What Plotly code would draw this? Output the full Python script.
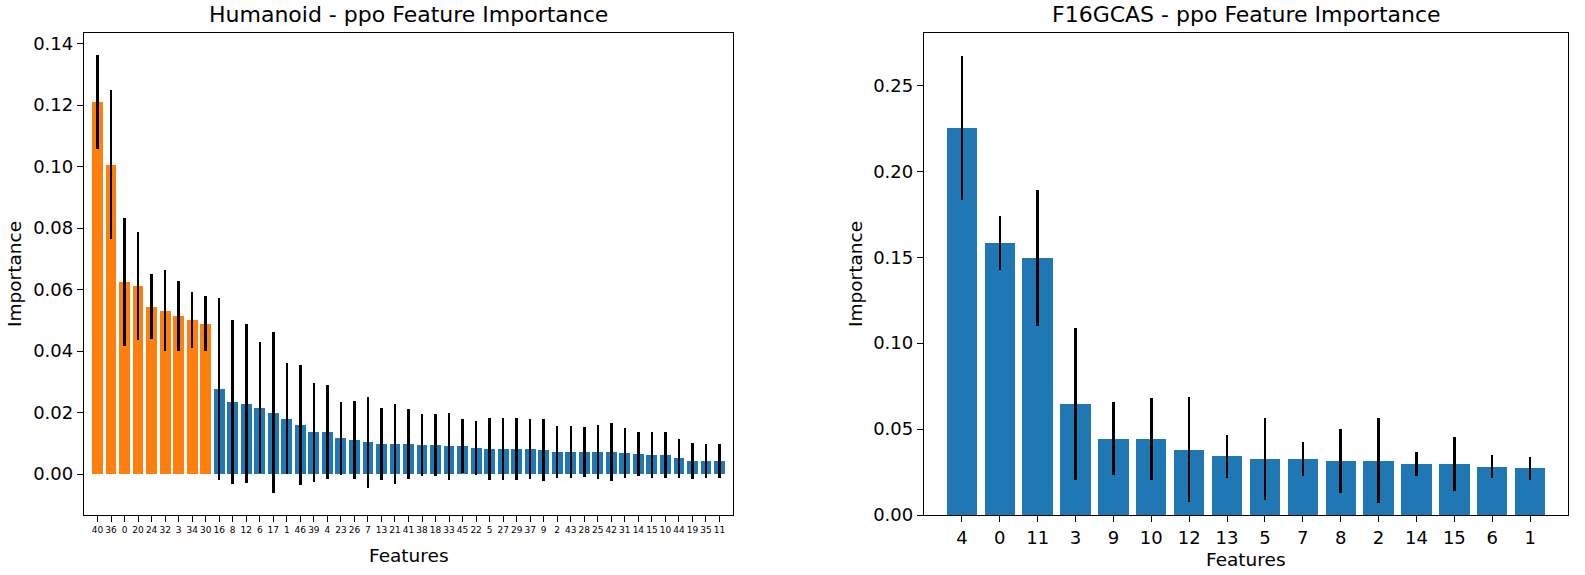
import plotly.graph_objects as go

# ---------------- data ----------------
hum_features = ["40", "36", "0", "20", "24", "32", "3", "34", "30", "16", "8", "12", "6", "17", "1",
                "46", "39", "4", "23", "26", "7", "13", "21", "41", "38", "18", "33", "45", "22", "5",
                "27", "29", "37", "9", "2", "43", "28", "25", "42", "31", "14", "15", "10", "44", "19",
                "35", "11"]
hum_importance = [0.1210, 0.1006, 0.0624, 0.0611, 0.0544, 0.0531, 0.0514, 0.0501, 0.0489,
                  0.0277, 0.0235, 0.0229, 0.0216, 0.0200, 0.0180, 0.0158, 0.0136, 0.0136, 0.0116,
                  0.0111, 0.0103, 0.0098, 0.0098, 0.0098,
                  0.0094, 0.0094, 0.0090, 0.0090, 0.0085, 0.0081, 0.0081, 0.0081, 0.0081, 0.0077,
                  0.0072, 0.0072, 0.0072, 0.0072, 0.0072, 0.0068, 0.0064, 0.0061, 0.0061, 0.0051,
                  0.0043, 0.0043, 0.0043]
hum_std = [0.0153, 0.0242, 0.0208, 0.0175, 0.0106, 0.0132, 0.0114, 0.0090, 0.0089,
           0.0296, 0.0266, 0.0259, 0.0213, 0.0262, 0.0181, 0.0195, 0.0161, 0.0153, 0.0118,
           0.0127, 0.0148, 0.0118, 0.0131, 0.0114,
           0.0102, 0.0102, 0.0110, 0.0088, 0.0089, 0.0102, 0.0102, 0.0102, 0.0097, 0.0101,
           0.0085, 0.0085, 0.0082, 0.0089, 0.0095, 0.0081, 0.0072, 0.0075, 0.0075, 0.0064,
           0.0059, 0.0055, 0.0055]
hum_top_count = 9  # number of highlighted (orange) features

f16_features = ["4", "0", "11", "3", "9", "10", "12", "13", "5", "7", "8", "2", "14", "15", "6", "1"]
f16_importance = [0.2251, 0.1584, 0.1496, 0.0646, 0.0443, 0.0443, 0.0381, 0.0343, 0.0327,
                  0.0327, 0.0315, 0.0315, 0.0297, 0.0297, 0.0281, 0.0273]
f16_std = [0.0420, 0.0158, 0.0396, 0.0440, 0.0212, 0.0239, 0.0307, 0.0125, 0.0240,
           0.0099, 0.0187, 0.0247, 0.0069, 0.0155, 0.0068, 0.0067]

# ---------------- style ----------------
BLUE = "#1f77b4"
ORANGE = "#ff7f0e"
FONT = "DejaVu Sans"
W, H = 1585, 575
TICK_FS = 18
LABEL_FS = 18.5
TITLE_FS = 22
SMALL_FS = 9

hum_x = list(range(len(hum_features)))
f16_x = list(range(len(f16_features)))
hum_colors = [ORANGE if i < hum_top_count else BLUE for i in hum_x]

err_style = dict(type="data", color="black", thickness=2.5, width=0)

fig = go.Figure()
fig.add_trace(go.Bar(x=hum_x, y=hum_importance, width=0.8,
                     marker=dict(color=hum_colors, line=dict(width=0)),
                     error_y=dict(array=hum_std, **err_style),
                     xaxis="x", yaxis="y", showlegend=False))
fig.add_trace(go.Bar(x=f16_x, y=f16_importance, width=0.8,
                     marker=dict(color=BLUE, line=dict(width=0)),
                     error_y=dict(array=f16_std, **err_style),
                     xaxis="x2", yaxis="y2", showlegend=False))

def px_x(v):
    return v / W

def px_y(v):
    return 1 - v / H

L_X0, L_X1 = 84, 733
R_X0, R_X1 = 924, 1568
Y_TOP, Y_BOT = 33, 515

axis_common = dict(showline=True, mirror=True, linecolor="black", linewidth=1.3,
                   ticks="outside", ticklen=6, tickwidth=1.3, tickcolor="black",
                   showgrid=False, zeroline=False, automargin=False,
                   tickfont=dict(family=FONT, size=TICK_FS, color="black"))

hum_lo = min(v - s for v, s in zip(hum_importance, hum_std))
hum_hi = max(v + s for v, s in zip(hum_importance, hum_std))
hum_pad = 0.05 * (hum_hi - hum_lo)
f16_hi = max(v + s for v, s in zip(f16_importance, f16_std))

fig.update_layout(
    width=W, height=H,
    margin=dict(l=0, r=0, t=0, b=0),
    paper_bgcolor="white", plot_bgcolor="white",
    font=dict(family=FONT, color="black"),
    bargap=0,
    xaxis=dict(domain=[px_x(L_X0), px_x(L_X1)], range=[-1, len(hum_features)],
               tickmode="array", tickvals=hum_x, ticktext=hum_features, tickangle=0,
               anchor="y", **{**axis_common, "tickfont": dict(family=FONT, size=SMALL_FS, color="black")}),
    yaxis=dict(domain=[px_y(Y_BOT), px_y(Y_TOP)], range=[hum_lo - hum_pad, hum_hi + hum_pad],
               dtick=0.02, tick0=0, tickformat=".2f", anchor="x", **axis_common),
    xaxis2=dict(domain=[px_x(R_X0), px_x(R_X1)], range=[-1, len(f16_features)],
                tickmode="array", tickvals=f16_x, ticktext=f16_features, tickangle=0,
                anchor="y2", **axis_common),
    yaxis2=dict(domain=[px_y(Y_BOT), px_y(Y_TOP)], range=[0, f16_hi * 1.05],
                dtick=0.05, tick0=0, tickformat=".2f", anchor="x2", **axis_common),
)

ann = []
def text(x, y, s, size, angle=0, xanchor="center", yanchor="middle"):
    ann.append(dict(x=px_x(x), y=px_y(y), xref="paper", yref="paper", text=s,
                    showarrow=False, textangle=angle, xanchor=xanchor, yanchor=yanchor,
                    font=dict(family=FONT, size=size, color="black")))

text((L_X0 + L_X1) / 2, 15, "Humanoid - ppo Feature Importance", TITLE_FS)
text((R_X0 + R_X1) / 2, 15, "F16GCAS - ppo Feature Importance", TITLE_FS)
text((L_X0 + L_X1) / 2, 555, "Features", LABEL_FS)
text((R_X0 + R_X1) / 2, 559, "Features", LABEL_FS)
text(14, (Y_TOP + Y_BOT) / 2, "Importance", LABEL_FS, angle=-90)
text(855, (Y_TOP + Y_BOT) / 2, "Importance", LABEL_FS, angle=-90)
fig.update_layout(annotations=ann)

fig.write_html("out.html", config={"displayModeBar": False},
               post_script="document.body.style.margin='0';")
